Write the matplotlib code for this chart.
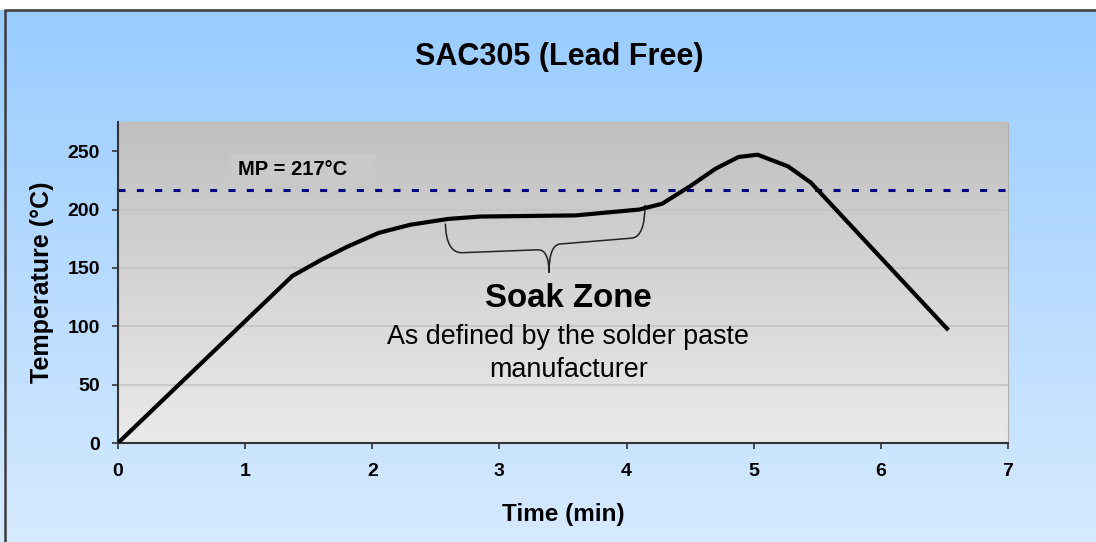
import numpy as np
import matplotlib
matplotlib.use("Agg")
from matplotlib import pyplot as plt
from matplotlib.path import Path
from matplotlib.patches import PathPatch, Rectangle

# reflow profile
time_min = [0, 1.37, 1.6, 1.8, 2.05, 2.3, 2.6, 2.85, 3.6, 4.1, 4.28, 4.5,
            4.7, 4.88, 5.03, 5.27, 5.45, 6.52]
temp_c = [0, 143, 157, 168, 180, 187, 192, 194, 195, 200, 205, 220,
          235, 245, 247, 237, 223, 98]

melting_point = 217
x_ticks = [0, 1, 2, 3, 4, 5, 6, 7]
y_ticks = [0, 50, 100, 150, 200, 250]

# soak zone brace (left end, right end, tip) in data units
brace_left = (2.575, 188)
brace_right = (4.145, 204)
brace_tip = (3.39, 146)

plt.rcParams['font.family'] = ['Liberation Sans', 'DejaVu Sans']

fig = plt.figure(figsize=(10.96, 5.42), dpi=100, facecolor='white')

# light blue gradient behind everything, with a dark frame
bg = fig.add_axes([0, 0, 1, 1 - 10 / 542], zorder=-10)
grad = np.linspace(0, 1, 256).reshape(-1, 1)
top_blue = np.array([153, 204, 255]) / 255
bot_blue = np.array([214, 234, 255]) / 255
bg.imshow(top_blue + grad[..., None] * (bot_blue - top_blue), aspect='auto',
          extent=[0, 1, 0, 1])
bg.set_xlim(0, 1)
bg.set_ylim(0, 1)
bg.axis('off')
fig.add_artist(Rectangle((5 / 1096, -0.05), 1.1, 1.05 - 10 / 542,
                         transform=fig.transFigure, fill=False,
                         edgecolor='#3c3c3c', linewidth=1.8))

ax = fig.add_axes([118 / 1096, 99 / 542, 890 / 1096, 321 / 542])

# grey gradient in the plot area
top_grey = np.array([192, 192, 192]) / 255
bot_grey = np.array([234, 234, 234]) / 255
ax.imshow(top_grey + grad[..., None] * (bot_grey - top_grey), aspect='auto',
          extent=[0, 1, 0, 1], transform=ax.transAxes, zorder=0)

ax.set_xlim(0, 7)
ax.set_ylim(0, 275)
ax.set_xticks(x_ticks)
ax.set_yticks(y_ticks)
for v in y_ticks[1:]:
    ax.axhline(v, color='#c4c4c4', linewidth=1.2, zorder=1)

ax.axhline(melting_point, color='#000080', linewidth=2.2,
           dashes=(2.3, 3.7), zorder=2)
ax.text(0.94, 234, 'MP = 217°C    ', fontsize=14.5, fontweight='bold',
        ha='left', va='center', zorder=3,
        bbox=dict(boxstyle='square,pad=0.3', facecolor='#c9c9c9',
                  edgecolor='none'))

ax.plot(time_min, temp_c, color='black', linewidth=3, zorder=4,
        solid_joinstyle='round')

# curly brace under the soak plateau
lx, ly = brace_left
rx, ry = brace_right
tx, ty = brace_tip
verts = [(lx, ly), (lx + 0.005, 163.5), (lx + 0.125, 163),
         (tx - 0.09, 165.5),
         (tx, 166), (tx, ty),
         (tx, 170), (tx + 0.09, 170.5),
         (rx - 0.105, 175.5),
         (rx, 176.5), (rx, ry)]
codes = [Path.MOVETO, Path.CURVE3, Path.CURVE3, Path.LINETO,
         Path.CURVE3, Path.CURVE3, Path.CURVE3, Path.CURVE3,
         Path.LINETO, Path.CURVE3, Path.CURVE3]
ax.add_patch(PathPatch(Path(verts, codes), fill=False, edgecolor='#222222',
                       linewidth=1.1, zorder=3))

ax.text(3.54, 124, 'Soak Zone', fontsize=23.8, fontweight='bold',
        ha='center', va='center', zorder=3)
ax.text(3.54, 77, 'As defined by the solder paste\nmanufacturer',
        fontsize=19.4, ha='center', va='center', multialignment='center',
        linespacing=1.35, zorder=3)

ax.spines['top'].set_visible(False)
ax.spines['right'].set_color('#b0b0b0')
ax.spines['left'].set_color('#333333')
ax.spines['bottom'].set_color('#333333')
ax.spines['left'].set_linewidth(1.5)
ax.spines['bottom'].set_linewidth(1.5)

ax.tick_params(axis='both', which='major', direction='out', length=4.5,
               width=1.2, labelsize=14, color='#333333')
ax.tick_params(axis='y', pad=8.5)
ax.tick_params(axis='x', pad=10)
for lbl in ax.get_xticklabels() + ax.get_yticklabels():
    lbl.set_fontweight('bold')

ax.set_xlabel('Time (min)', fontsize=17.5, fontweight='bold')
ax.set_ylabel('Temperature (°C)', fontsize=18, fontweight='bold')
ax.xaxis.set_label_coords(0.5, -0.187)
ax.yaxis.set_label_coords(-0.072, 0.5)

fig.text(559 / 1096, 1 - 57 / 542, 'SAC305 (Lead Free)', fontsize=22,
         fontweight='bold', ha='center', va='center')

fig.savefig('out.png', dpi=100, facecolor=fig.get_facecolor())
